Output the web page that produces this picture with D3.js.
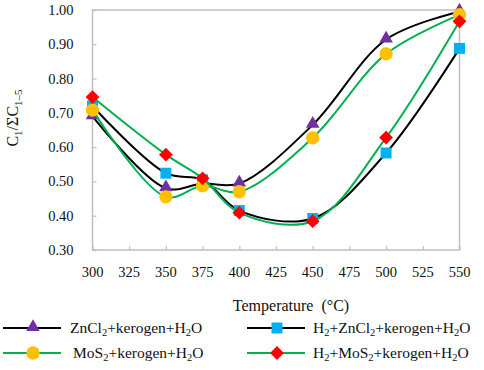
<!DOCTYPE html>
<html>
<head>
<meta charset="utf-8">
<script src="https://cdn.jsdelivr.net/npm/d3@7"></script>
<style>
  body { margin: 0; background: #fff; }
</style>
</head>
<body>
<div id="chart"></div>
<script>
// Values
const temps = [300, 350, 375, 400, 450, 500, 550];
const znCl2 = [0.69, 0.48, 0.494, 0.494, 0.665, 0.914, 0.995];
const h2ZnCl2 = [0.72, 0.524, 0.505, 0.415, 0.392, 0.583, 0.888];
const moS2 = [0.708, 0.455, 0.4875, 0.47, 0.627, 0.872, 0.986];
const h2MoS2 = [0.746, 0.578, 0.509, 0.409, 0.384, 0.628, 0.967];
const xTicks = [300, 325, 350, 375, 400, 425, 450, 475, 500, 525, 550];
const yTicks = [0.3, 0.4, 0.5, 0.6, 0.7, 0.8, 0.9, 1.0];

const series = [
  { name: ["ZnCl", "2", "+kerogen+H", "2", "O"], values: znCl2, line: "#000", marker: "triangle", fill: "#7030a0" },
  { name: ["H", "2", "+ZnCl", "2", "+kerogen+H", "2", "O"], values: h2ZnCl2, line: "#000", marker: "square", fill: "#00b0f0" },
  { name: ["MoS", "2", "+kerogen+H", "2", "O"], values: moS2, line: "#00b050", marker: "circle", fill: "#ffc000" },
  { name: ["H", "2", "+MoS", "2", "+kerogen+H", "2", "O"], values: h2MoS2, line: "#00b050", marker: "diamond", fill: "#ff0000" }
];

const width = 484, height = 370;
const margin = { left: 92.5, right: 24.5, top: 10, bottom: 120 };
const serif = "'Liberation Serif', 'Times New Roman', Tinos, 'DejaVu Serif', serif";

const svg = d3.select("#chart").append("svg")
    .attr("width", width)
    .attr("height", height)
    .style("display", "block")
    .attr("font-family", serif);

const x = d3.scaleLinear()
    .domain([300, 550])
    .range([margin.left, width - margin.right]);
const y = d3.scaleLinear()
    .domain([0.3, 1.0])
    .range([height - margin.bottom, margin.top]);

// Plot frame
svg.append("rect")
    .attr("x", x(300)).attr("y", y(1.0))
    .attr("width", x(550) - x(300)).attr("height", y(0.3) - y(1.0))
    .attr("fill", "none").attr("stroke", "#bfbfbf").attr("stroke-width", 1.5);

// Axes with inward ticks
const xAxis = svg.append("g")
    .attr("transform", `translate(0,${y(0.3)})`)
    .call(d3.axisTop(x).tickValues(xTicks).tickSize(4).tickFormat(""));
xAxis.select(".domain").remove();
xAxis.selectAll("line").attr("stroke", "#bfbfbf").attr("stroke-width", 1.2);

svg.append("g").selectAll("text")
    .data(xTicks)
    .join("text")
    .attr("x", d => x(d))
    .attr("y", y(0.3) + 27)
    .attr("text-anchor", "middle")
    .attr("font-family", serif)
    .attr("font-size", 14.5)
    .attr("fill", "#111")
    .text(d => d);

const yAxis = svg.append("g")
    .attr("transform", `translate(${x(300)},0)`)
    .call(d3.axisRight(y).tickValues(yTicks).tickSize(4).tickFormat(""));
yAxis.select(".domain").remove();
yAxis.selectAll("line").attr("stroke", "#bfbfbf").attr("stroke-width", 1.2);

svg.append("g").selectAll("text")
    .data(yTicks)
    .join("text")
    .attr("x", x(300) - 19)
    .attr("y", d => y(d) + 5)
    .attr("text-anchor", "end")
    .attr("font-family", serif)
    .attr("font-size", 14.5)
    .attr("fill", "#111")
    .text(d => d3.format(".2f")(d));

// Axis titles
svg.append("text")
    .attr("x", 291)
    .attr("y", 311)
    .attr("text-anchor", "middle")
    .attr("font-family", serif)
    .attr("font-size", 16)
    .attr("fill", "#111")
    .attr("xml:space", "preserve")
    .text("Temperature\u00A0\u00A0(\u00B0C)");

const yt = svg.append("text")
    .attr("transform", "translate(18,118) rotate(-90)")
    .attr("text-anchor", "middle")
    .attr("font-family", serif)
    .attr("font-size", 16)
    .attr("fill", "#111");
yt.append("tspan").text("C");
yt.append("tspan").attr("font-size", 11).attr("dy", 4).text("1");
yt.append("tspan").attr("dy", -4).text("/\u03A3C");
yt.append("tspan").attr("font-size", 11).attr("dy", 4).text("1\u20135");

// Markers
const symbols = {
  triangle: d3.symbol().type(d3.symbolTriangle).size(80),
  square: d3.symbol().type(d3.symbolSquare).size(120),
  circle: d3.symbol().type(d3.symbolCircle).size(140),
  diamond: d3.symbol().type(d3.symbolSquare).size(95)
};
function drawMarker(g, s, px, py) {
  const p = g.append("path")
      .attr("d", symbols[s.marker]())
      .attr("fill", s.fill);
  if (s.marker === "diamond") p.attr("transform", `translate(${px},${py}) rotate(45)`);
  else if (s.marker === "triangle") p.attr("transform", `translate(${px},${py - 1})`);
  else p.attr("transform", `translate(${px},${py})`);
}

const line = d3.line()
    .x(d => x(d[0]))
    .y(d => y(d[1]))
    .curve(d3.curveCatmullRom.alpha(0.5));

const plot = svg.append("g");
series.forEach(s => {
  const pts = temps.map((t, i) => [t, s.values[i]]);
  const g = plot.append("g");
  g.append("path")
      .attr("d", line(pts))
      .attr("fill", "none")
      .attr("stroke", s.line)
      .attr("stroke-width", 2);
  pts.forEach(p => drawMarker(g, s, x(p[0]), y(p[1])));
});

// Legend
const legendPos = [
  { lx: 3, ly: 328, tx: 70 },
  { lx: 247, ly: 328, tx: 313 },
  { lx: 3, ly: 353, tx: 73 },
  { lx: 247, ly: 353, tx: 313 }
];
series.forEach((s, i) => {
  const pos = legendPos[i];
  const g = svg.append("g");
  g.append("line")
      .attr("x1", pos.lx).attr("x2", pos.lx + 58)
      .attr("y1", pos.ly).attr("y2", pos.ly)
      .attr("stroke", s.line).attr("stroke-width", 2);
  drawMarker(g, s, pos.lx + 30, pos.ly);
  const t = g.append("text")
      .attr("x", pos.tx)
      .attr("y", pos.ly + 5)
      .attr("font-family", serif)
      .attr("font-size", 15.5)
      .attr("fill", "#111");
  s.name.forEach((part, k) => {
    const sub = k % 2 === 1;
    t.append("tspan")
        .attr("font-size", sub ? 10.5 : null)
        .attr("dy", sub ? 3 : (k > 0 ? -3 : 0))
        .text(part);
  });
});
</script>
</body>
</html>
